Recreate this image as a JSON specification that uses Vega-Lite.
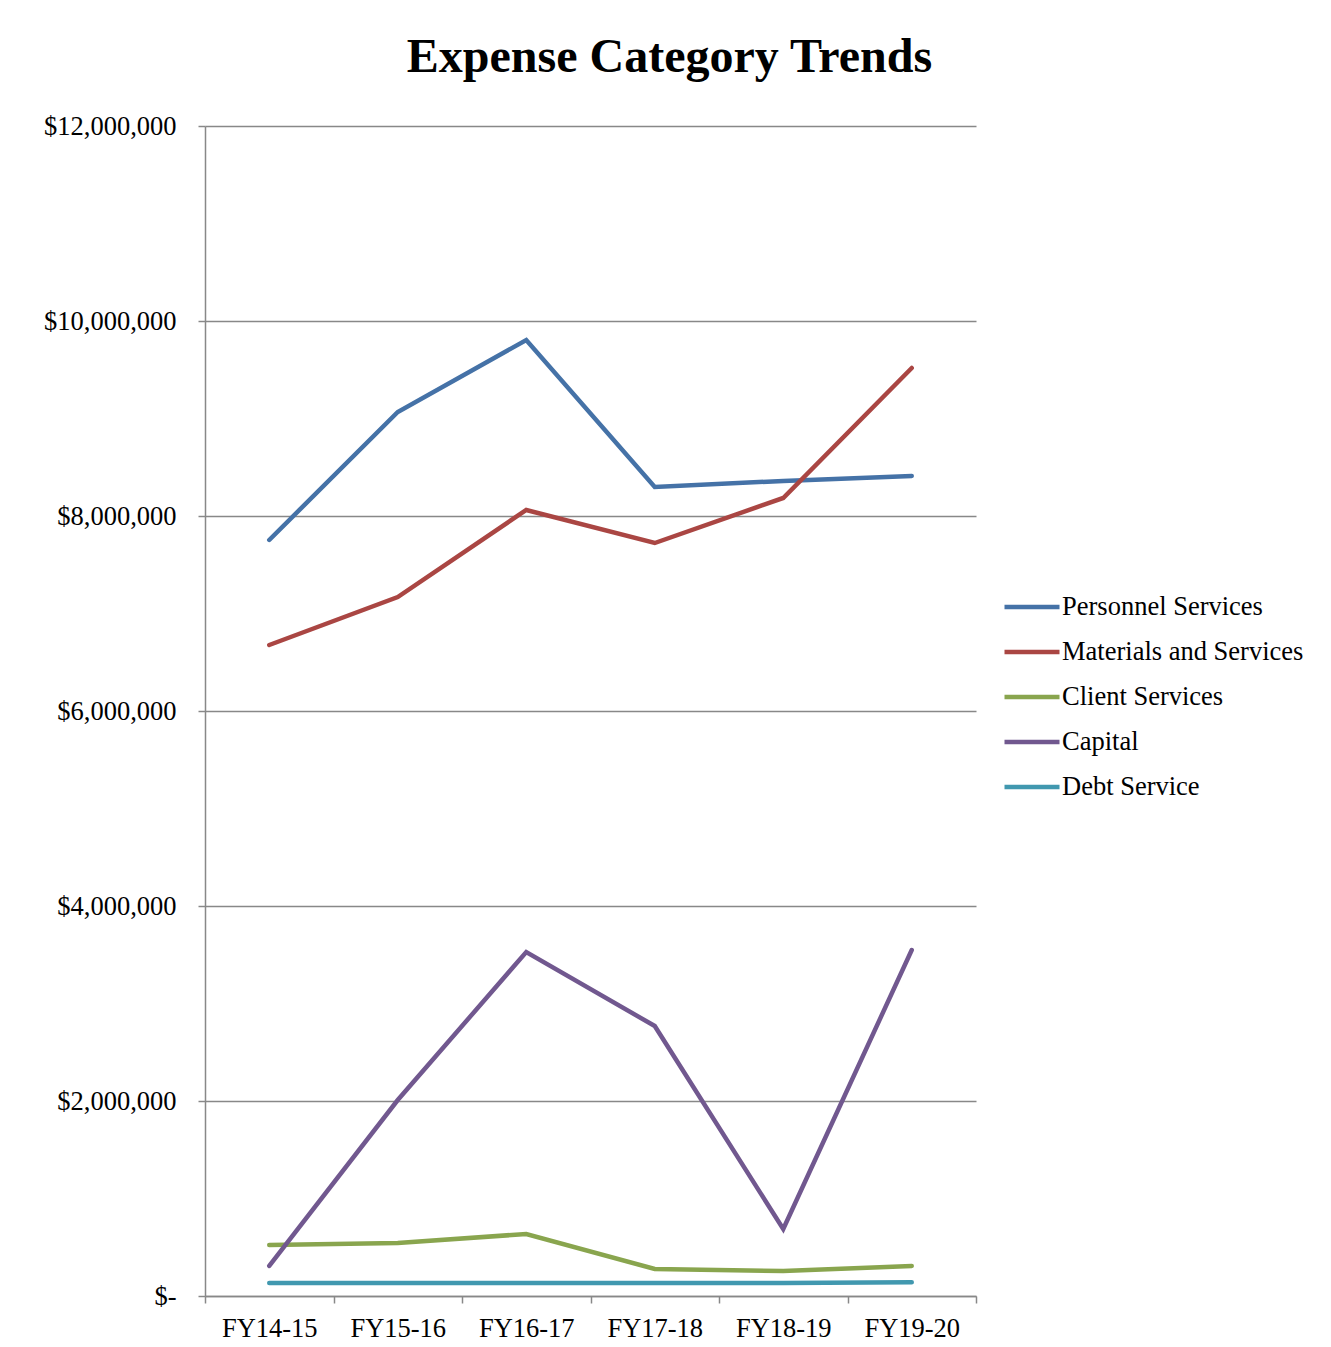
{
  "$schema": "https://vega.github.io/schema/vega-lite/v6.json",
  "autosize": "none",
  "width": 771,
  "height": 1170,
  "padding": {"left": 205, "top": 126, "right": 355, "bottom": 51},
  "background": "white",
  "title": {
    "text": "Expense Category Trends",
    "font": "Liberation Serif",
    "fontSize": 48,
    "fontWeight": "bold",
    "color": "black",
    "anchor": "middle",
    "dx": 79,
    "offset": 31
  },
  "data": {
    "values": [
      {"year": "FY14-15", "category": "Personnel Services", "amount": 7754000},
      {"year": "FY15-16", "category": "Personnel Services", "amount": 9067000},
      {"year": "FY16-17", "category": "Personnel Services", "amount": 9805000},
      {"year": "FY17-18", "category": "Personnel Services", "amount": 8297000},
      {"year": "FY18-19", "category": "Personnel Services", "amount": 8360000},
      {"year": "FY19-20", "category": "Personnel Services", "amount": 8410000},
      {"year": "FY14-15", "category": "Materials and Services", "amount": 6677000},
      {"year": "FY15-16", "category": "Materials and Services", "amount": 7169000},
      {"year": "FY16-17", "category": "Materials and Services", "amount": 8062000},
      {"year": "FY17-18", "category": "Materials and Services", "amount": 7723000},
      {"year": "FY18-19", "category": "Materials and Services", "amount": 8185000},
      {"year": "FY19-20", "category": "Materials and Services", "amount": 9518000},
      {"year": "FY14-15", "category": "Client Services", "amount": 523000},
      {"year": "FY15-16", "category": "Client Services", "amount": 544000},
      {"year": "FY16-17", "category": "Client Services", "amount": 636000},
      {"year": "FY17-18", "category": "Client Services", "amount": 277000},
      {"year": "FY18-19", "category": "Client Services", "amount": 256000},
      {"year": "FY19-20", "category": "Client Services", "amount": 308000},
      {"year": "FY14-15", "category": "Capital", "amount": 308000},
      {"year": "FY15-16", "category": "Capital", "amount": 2010000},
      {"year": "FY16-17", "category": "Capital", "amount": 3528000},
      {"year": "FY17-18", "category": "Capital", "amount": 2769000},
      {"year": "FY18-19", "category": "Capital", "amount": 687000},
      {"year": "FY19-20", "category": "Capital", "amount": 3549000},
      {"year": "FY14-15", "category": "Debt Service", "amount": 133000},
      {"year": "FY15-16", "category": "Debt Service", "amount": 133000},
      {"year": "FY16-17", "category": "Debt Service", "amount": 133000},
      {"year": "FY17-18", "category": "Debt Service", "amount": 133000},
      {"year": "FY18-19", "category": "Debt Service", "amount": 134000},
      {"year": "FY19-20", "category": "Debt Service", "amount": 140000}
    ]
  },
  "mark": {"type": "line", "strokeWidth": 4.5, "strokeCap": "round", "strokeJoin": "miter"},
  "encoding": {
    "x": {
      "field": "year",
      "type": "nominal",
      "sort": null,
      "scale": {"paddingInner": 0, "paddingOuter": 0},
      "axis": {
        "title": null,
        "labelAngle": 0,
        "labelFont": "Liberation Serif",
        "labelFontSize": 26.5,
        "labelColor": "black",
        "labelPadding": 12,
        "tickBand": "extent",
        "tickSize": 7,
        "tickColor": "#888888",
        "tickWidth": 1.5,
        "domainColor": "#888888",
        "domainWidth": 1.5,
        "grid": false
      }
    },
    "y": {
      "field": "amount",
      "type": "quantitative",
      "scale": {"domain": [0, 12000000], "nice": false},
      "axis": {
        "title": null,
        "values": [0, 2000000, 4000000, 6000000, 8000000, 10000000, 12000000],
        "labelExpr": "datum.value == 0 ? '$-' : '$' + format(datum.value, ',')",
        "labelFont": "Liberation Serif",
        "labelFontSize": 26.5,
        "labelColor": "black",
        "labelPadding": 22,
        "tickSize": 7,
        "tickColor": "#888888",
        "tickWidth": 1.5,
        "domainColor": "#888888",
        "domainWidth": 1.5,
        "grid": true,
        "gridColor": "#888888",
        "gridWidth": 1.5
      }
    },
    "color": {
      "field": "category",
      "type": "nominal",
      "sort": ["Personnel Services", "Materials and Services", "Client Services", "Capital", "Debt Service"],
      "scale": {
        "domain": ["Personnel Services", "Materials and Services", "Client Services", "Capital", "Debt Service"],
        "range": ["#4572A7", "#AA4643", "#89A54E", "#71588F", "#4198AF"]
      },
      "legend": {
        "title": null,
        "orient": "none",
        "legendX": 797,
        "legendY": 451,
        "symbolType": "stroke",
        "symbolSize": 3025,
        "symbolStrokeWidth": 4.5,
        "labelFont": "Liberation Serif",
        "labelFontSize": 26.5,
        "labelColor": "black",
        "labelOffset": 0,
        "rowPadding": 1,
        "labelLimit": 400
      }
    }
  },
  "config": {"view": {"stroke": null}}
}
